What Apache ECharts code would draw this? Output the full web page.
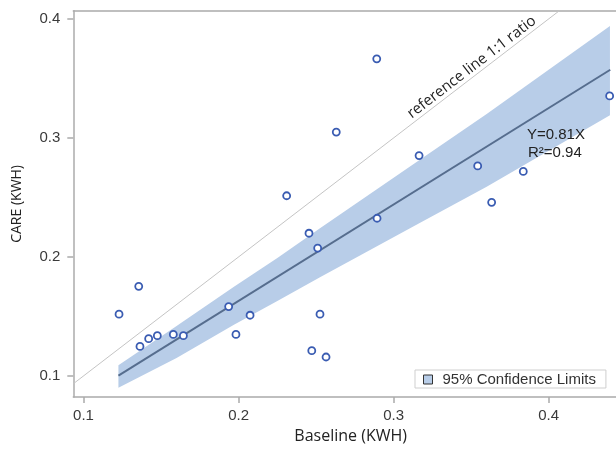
<!DOCTYPE html>
<html>
<head>
<meta charset="utf-8">
<script src="https://cdn.jsdelivr.net/npm/echarts@6/dist/echarts.min.js"></script>
<style>
html,body{margin:0;padding:0;background:#fff;}
#main{width:616px;height:449px;}
</style>
</head>
<body>
<div id="main"></div>
<script>
// ---- data ----
const baseline = [0.1229,0.1356,0.1364,0.1420,0.1476,0.1579,0.1644,0.1936,0.1983,0.2074,0.2310,0.2454,0.2472,0.2510,0.2525,0.2564,0.2630,0.2891,0.2893,0.3164,0.3542,0.3632,0.3836,0.4393];
const care     = [0.1519,0.1753,0.1248,0.1313,0.1338,0.1349,0.1338,0.1583,0.1349,0.1510,0.2514,0.2199,0.1212,0.2074,0.1519,0.1159,0.3049,0.3665,0.2325,0.2852,0.2765,0.2459,0.2718,0.3353];
const fitX = [0.1225, 0.4397];
const fitY = [0.1003, 0.3573];
const bandX     = [0.1225,0.160,0.197,0.225,0.2525,0.3162,0.360,0.4395];
const bandUpper = [0.109, 0.142,0.175,0.199,0.224, 0.281, 0.320,0.394];
const bandLower = [0.090, 0.115,0.143,0.163,0.183, 0.228, 0.259,0.319];
const refX = [0.0934, 0.4069];
const refY = [0.0934, 0.4069];
const xTicks = [0.1,0.2,0.3,0.4];
const yTicks = [0.1,0.2,0.3,0.4];
const xRange = [0.0934, 0.4434];
const yRange = [0.0822, 0.4069];
const fitText = ['Y=0.81X', 'R\u00B2=0.94'];
const refLabel = 'reference line 1:1 ratio';
const bandName = '95% Confidence Limits';

const chart = echarts.init(document.getElementById('main'), null, {renderer:'canvas'});
const axisCol = '#ababab';
const lblFont = {fontFamily:'Liberation Sans, Arial, sans-serif', fontSize:15, color:'#3a3a3a'};
const fmt = v => (Math.abs(v*10 - Math.round(v*10)) < 1e-6 ? v.toFixed(1) : '');

const option = {
  animation:false,
  backgroundColor:'#fff',
  grid:{left:73.3, right:0, top:10.7, bottom:50, containLabel:false},
  xAxis:[{
    type:'value', min:xRange[0], max:xRange[1], minInterval:0.1, maxInterval:0.1,
    position:'bottom',
    axisLine:{show:true, onZero:false, lineStyle:{color:axisCol, width:1.5}},
    axisTick:{show:true, length:6, customValues:xTicks, lineStyle:{color:axisCol, width:1.5}},
    axisLabel:{show:true, customValues:xTicks, formatter:fmt, margin:11, ...lblFont},
    splitLine:{show:false},
    name:'Baseline (KWH)', nameLocation:'middle', nameGap:29,
    nameTextStyle:{fontFamily:'Open Sans, sans-serif', fontSize:16, color:'#222', padding:[0,0,0,12]}
  },{
    type:'value', min:xRange[0], max:xRange[1], position:'top',
    axisLine:{show:true, onZero:false, lineStyle:{color:axisCol, width:1.5}},
    axisTick:{show:false}, axisLabel:{show:false}, splitLine:{show:false}
  }],
  yAxis:[{
    type:'value', min:yRange[0], max:yRange[1], minInterval:0.1, maxInterval:0.1,
    axisLine:{show:true, onZero:false, lineStyle:{color:axisCol, width:1.5}},
    axisTick:{show:true, length:6, customValues:yTicks, lineStyle:{color:axisCol, width:1.5}},
    axisLabel:{show:true, customValues:yTicks, formatter:fmt, margin:13, ...lblFont},
    splitLine:{show:false},
    name:'CARE (KWH)', nameLocation:'middle', nameGap:49,
    nameTextStyle:{fontFamily:'Open Sans, sans-serif', fontSize:14, color:'#222'}
  }],
  legend:{
    left:415, top:370, selectedMode:false,
    data:[{name:bandName, icon:'rect', itemStyle:{color:'#b8cde8', borderColor:'#333', borderWidth:1}}],
    itemWidth:9, itemHeight:9,
    borderColor:'#cfcfcf', borderWidth:1, backgroundColor:'#fff',
    padding:[1,10,0,8],
    textStyle:{fontFamily:'Liberation Sans, Arial, sans-serif', fontSize:15, color:'#333', lineHeight:17, padding:[0,0,0,5]}
  },
  series:[
    {
      name:bandName, type:'custom', xAxisIndex:0, yAxisIndex:0,
      data: bandX.map((x,i)=>[x, bandLower[i], bandUpper[i]]),
      encode:{x:0, y:[1,2]},
      itemStyle:{color:'#b8cde8'},
      renderItem:function(params, api){
        if (params.dataIndex !== 0) return null;
        const pts = [];
        for (let i=0;i<bandX.length;i++) pts.push(api.coord([bandX[i], bandUpper[i]]));
        for (let i=bandX.length-1;i>=0;i--) pts.push(api.coord([bandX[i], bandLower[i]]));
        return {type:'polygon', shape:{points:pts}, style:{fill:'#b8cde8', stroke:null}};
      },
      z:1
    },
    {
      name:'fit', type:'line', showSymbol:false, symbol:'none',
      data: fitX.map((x,i)=>[x, fitY[i]]),
      lineStyle:{color:'#566d8e', width:2},
      z:3
    },
    {
      name:'ref', type:'line', showSymbol:false, symbol:'none',
      data: refX.map((x,i)=>[x, refY[i]]),
      lineStyle:{color:'#c4c4c4', width:1},
      markLine:{
        silent:true, symbol:['none','none'],
        lineStyle:{color:'rgba(0,0,0,0)', width:0},
        data:[[{coord:[refX[0], refY[0]]},{coord:[refX[1], refY[1]]}]],
        label:{show:true, position:'insideEndTop', distance:[25,1], formatter:refLabel,
               fontFamily:'Open Sans, sans-serif', fontSize:15, color:'#222'}
      },
      z:2
    },
    {
      name:'points', type:'scatter', symbol:'circle', symbolSize:7,
      data: baseline.map((x,i)=>[x, care[i]]),
      itemStyle:{color:'#ffffff', borderColor:'#3a5cb2', borderWidth:1.8, opacity:1},
      z:4
    }
  ],
  graphic:[
    {type:'text', z:100, left:527, top:127, style:{text:fitText[0], fontFamily:'Liberation Sans, Arial, sans-serif', fontSize:15, fill:'#222'}},
    {type:'text', z:100, left:528, top:145, style:{text:fitText[1], fontFamily:'Liberation Sans, Arial, sans-serif', fontSize:15, fill:'#222'}}
  ]
};
chart.setOption(option);
</script>
</body>
</html>
